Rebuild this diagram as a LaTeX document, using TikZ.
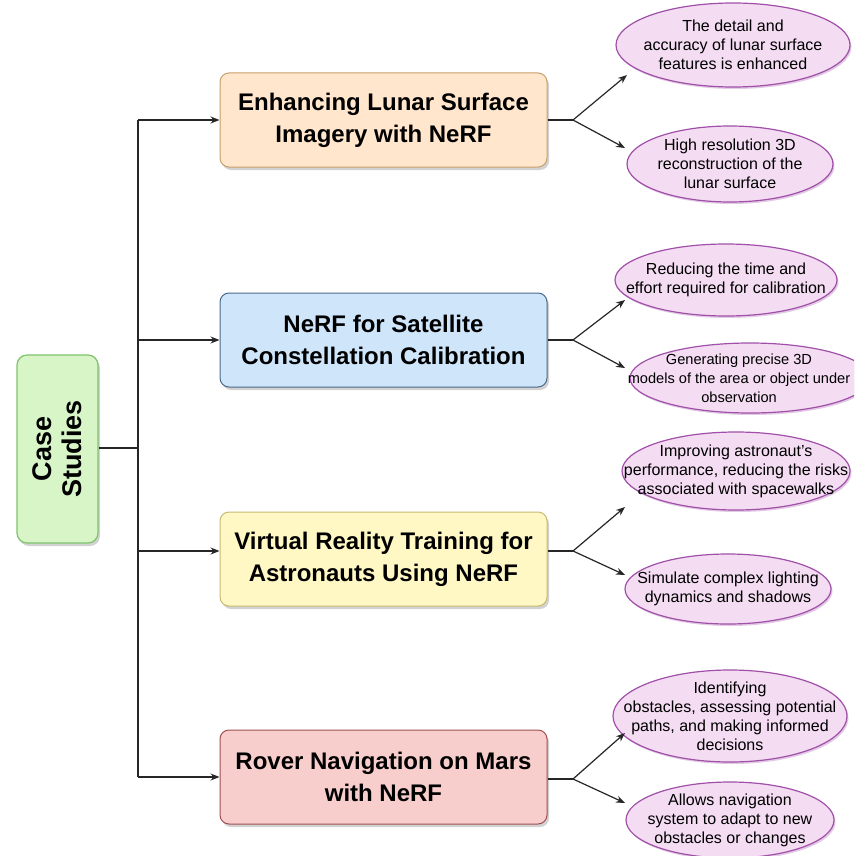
\documentclass[tikz,border=0pt]{standalone}
\usepackage{fontspec}
\setmainfont{Liberation Sans}
\usetikzlibrary{shapes.geometric,shadows,arrows.meta}
\definecolor{csfill}{HTML}{D8F5C8}
\definecolor{csdraw}{HTML}{7DC46A}
\definecolor{bafill}{HTML}{FFE6CC}
\definecolor{badraw}{HTML}{C9A06A}
\definecolor{bbfill}{HTML}{CFE5FA}
\definecolor{bbdraw}{HTML}{4A6A8A}
\definecolor{bcfill}{HTML}{FFF8C4}
\definecolor{bcdraw}{HTML}{C8BA70}
\definecolor{bdfill}{HTML}{F8CECC}
\definecolor{bddraw}{HTML}{A05050}
\definecolor{elfill}{HTML}{F4DCF2}
\definecolor{eldraw}{HTML}{A050A8}
\tikzset{
  mainbox/.style={draw, rounded corners=9pt, line width=1pt, minimum width=327pt,
    minimum height=94pt, align=center, inner sep=0pt,
    font=\bfseries\fontsize{24}{32}\selectfont,
    drop shadow={shadow xshift=2pt, shadow yshift=-3pt, opacity=0.35, fill=black!50}},
  elli/.style={ellipse, draw=eldraw, fill=elfill, line width=1.2pt, inner sep=0pt,
    drop shadow={shadow xshift=1.5pt, shadow yshift=-2pt, opacity=0.3, fill=eldraw}},
  etext/.style={align=center, font=\fontsize{16}{19}\selectfont, inner sep=0pt},
  conn/.style={line width=1.2pt, draw=black!85},
  arr/.style={conn, -{Stealth[length=9pt,width=7pt]}}
}
\begin{document}
\begin{tikzpicture}[x=1pt,y=-1pt]
\useasboundingbox (0,0) rectangle (854,856);
\clip (0,0) rectangle (854,856);
\fill[white] (0,0) rectangle (854,856);

% root
\node[draw=csdraw, fill=csfill, rounded corners=10pt, line width=1.2pt,
  minimum width=81pt, minimum height=188pt, inner sep=0pt,
  drop shadow={shadow xshift=2pt, shadow yshift=-3pt, opacity=0.35, fill=black!50}]
  (cs) at (57.5,449) {};
\node[rotate=90, align=center, font=\bfseries\fontsize{27}{30}\selectfont, inner sep=0pt]
  (cstext) at (cs) {Case\\Studies};

% main boxes
\node[mainbox, fill=bafill, draw=badraw] (b1) at (383.5,120) {Enhancing Lunar Surface\\Imagery with NeRF};
\node[mainbox, fill=bbfill, draw=bbdraw] (b2) at (383.5,340) {NeRF for Satellite\\Constellation Calibration};
\node[mainbox, fill=bcfill, draw=bcdraw] (b3) at (383.5,559) {Virtual Reality Training for\\Astronauts Using NeRF};
\node[mainbox, fill=bdfill, draw=bddraw] (b4) at (383.5,777) {Rover Navigation on Mars\\with NeRF};

% trunk
\coordinate (tc) at (138,448);
\coordinate (t1) at (138,120);
\coordinate (t2) at (138,340);
\coordinate (t3) at (138,551);
\coordinate (t4) at (138,777);
\draw[conn] (cs.east |- tc) -- (tc);
\draw[conn] (t1) -- (t4);
\draw[arr] (t1) -- (t1 -| b1.west);
\draw[arr] (t2) -- (t2 -| b2.west);
\draw[arr] (t3) -- (t3 -| b3.west);
\draw[arr] (t4) -- (t4 -| b4.west);

% ellipses
\node[elli, minimum width=234pt, minimum height=84pt] (e11) at (733,45) {};
\node[etext] (x11) at (e11) {The detail and\\accuracy of lunar surface\\features is enhanced};
\node[elli, minimum width=206pt, minimum height=76pt] (e12) at (730,164) {};
\node[etext] (x12) at (e12) {High resolution 3D\\reconstruction of the\\lunar surface};

\node[elli, minimum width=222pt, minimum height=72pt] (e21) at (726,280) {};
\node[etext] (x21) at (e21) {Reducing the time and\\effort required for calibration};
\node[elli, minimum width=240pt, minimum height=70pt] (e22) at (750,378) {};
\node[etext, font=\fontsize{14.6}{19}\selectfont] (x22) at (739,378) {Generating precise 3D\\models of the area or object under\\observation};

\node[elli, minimum width=228pt, minimum height=78pt] (e31) at (736,471) {};
\node[etext] (x31) at (e31) {Improving astronaut's\\performance, reducing the risks\\associated with spacewalks};
\node[elli, minimum width=206pt, minimum height=70pt] (e32) at (728,589) {};
\node[etext] (x32) at (e32) {Simulate complex lighting\\dynamics and shadows};

\node[elli, minimum width=234pt, minimum height=92pt] (e41) at (730,716) {};
\node[etext] (x41) at (e41) {Identifying\\obstacles, assessing potential\\paths, and making informed\\decisions};
\node[elli, minimum width=208pt, minimum height=76pt] (e42) at (730,820) {};
\node[etext] (x42) at (e42) {Allows navigation\\system to adapt to new\\obstacles or changes};

% forks
\coordinate (f1) at (573,120);
\coordinate (f2) at (573,340);
\coordinate (f3) at (573,551);
\coordinate (f4) at (573,779);
\coordinate (a11) at (627,75);
\coordinate (a12) at (625,148);
\coordinate (a21) at (625,300);
\coordinate (a22) at (625,368);
\coordinate (a31) at (625,507);
\coordinate (a32) at (625,575);
\coordinate (a41) at (625,733);
\coordinate (a42) at (625,803);

\draw[conn] (f1 -| b1.east) -- (f1);
\draw[arr] (f1) -- (a11);
\draw[arr] (f1) -- (a12);
\draw[conn] (f2 -| b2.east) -- (f2);
\draw[arr] (f2) -- (a21);
\draw[arr] (f2) -- (a22);
\draw[conn] (f3 -| b3.east) -- (f3);
\draw[arr] (f3) -- (a31);
\draw[arr] (f3) -- (a32);
\draw[conn] (f4 -| b4.east) -- (f4);
\draw[arr] (f4) -- (a41);
\draw[arr] (f4) -- (a42);
\end{tikzpicture}
\end{document}
